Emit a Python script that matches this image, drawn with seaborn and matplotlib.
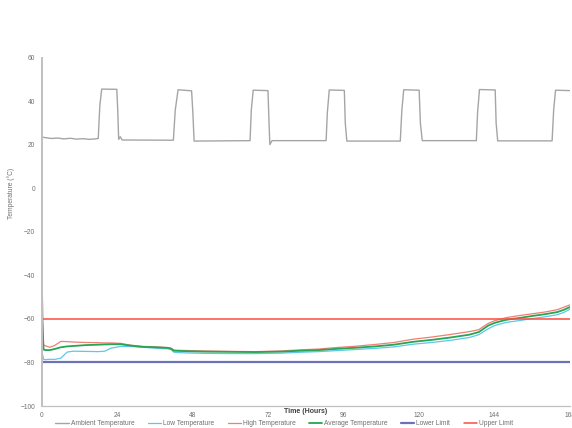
import matplotlib
matplotlib.use("Agg")
import matplotlib.pyplot as plt
import seaborn as sns
import numpy as np
import pandas as pd

# ambient temperature (hours, degC)
ambient_time = [0, 1, 3, 5, 7, 9, 11, 13, 15, 17, 17.9, 18.4, 19.0, 23.8, 24.1, 24.4, 24.9, 25.5,
                41.8, 42.4, 43.3, 47.6, 48.0, 48.4, 66.2, 66.6, 67.2, 71.9, 72.2, 72.5, 73.2,
                90.4, 90.8, 91.4, 96.2, 96.5, 97.0, 114.0, 114.5, 115.1, 120.0, 120.4, 121.0,
                138.2, 138.6, 139.2, 144.2, 144.5, 145.0, 162.3, 162.8, 163.4, 168]
ambient_temp = [23.6, 23.4, 23.0, 23.2, 22.8, 23.1, 22.7, 22.9, 22.6, 22.8, 23.0, 38.0, 45.7, 45.6, 36.0, 22.6, 23.8, 22.3,
                22.2, 36.0, 45.4, 44.9, 35.0, 21.8, 22.0, 36.0, 45.2, 45.0, 32.0, 20.2, 22.0,
                22.0, 35.0, 45.3, 45.1, 30.0, 21.8, 21.8, 36.0, 45.4, 45.2, 30.0, 22.0,
                22.0, 35.0, 45.5, 45.3, 30.0, 21.9, 21.9, 36.0, 45.2, 45.0]

# probe temperatures (hours, degC)
probe_time = [0, 0.5, 1, 2.5, 4, 6, 8, 10, 14, 18, 20, 22, 25, 28, 32, 36, 40, 41, 42, 46, 52,
              60, 68, 76, 82, 88, 94, 100, 106, 112, 118, 124, 130, 136, 139, 140, 142, 144,
              146, 148, 152, 156, 160, 164, 166, 168]
low_temp = [-75.0, -78.5, -78.7, -78.5, -78.6, -78.0, -75.2, -74.8, -74.9, -75.0, -74.8, -73.4,
            -72.6, -72.6, -73.0, -73.4, -73.7, -74.0, -75.3, -75.6, -75.8, -75.9, -75.9, -75.7,
            -75.3, -75.0, -74.5, -74.0, -73.5, -72.8, -71.6, -70.8, -69.8, -68.5, -67.2, -66.3,
            -64.5, -63.0, -62.2, -61.5, -60.7, -59.8, -59.0, -58.0, -57.0, -55.5]
high_temp = [-42.0, -72.0, -72.3, -73.0, -72.2, -70.3, -70.4, -70.6, -70.8, -70.9, -71.0, -71.0,
             -71.2, -72.0, -72.6, -72.8, -73.1, -73.4, -74.3, -74.5, -74.7, -74.9, -75.0, -74.7,
             -74.2, -73.8, -73.1, -72.5, -71.7, -70.8, -69.3, -68.3, -67.1, -65.8, -64.9, -63.9,
             -62.0, -60.8, -60.0, -59.3, -58.4, -57.6, -56.8, -55.7, -54.6, -53.5]
avg_temp = [-60.0, -74.0, -74.3, -74.3, -73.8, -73.0, -72.6, -72.4, -72.0, -71.8, -71.7, -71.6,
            -71.6, -72.2, -72.8, -73.0, -73.3, -73.6, -74.6, -74.8, -75.0, -75.1, -75.2, -75.0,
            -74.6, -74.3, -73.7, -73.2, -72.6, -71.8, -70.5, -69.6, -68.5, -67.2, -66.0, -65.0,
            -63.0, -61.8, -61.0, -60.3, -59.5, -58.6, -57.8, -56.8, -55.8, -54.5]

lower_limit = -80
upper_limit = -60

x_ticks = [0, 24, 48, 72, 96, 120, 144, 168]
y_ticks = [-100, -80, -60, -40, -20, 0, 20, 40, 60]

sns.set_theme(style="white")
plt.rcParams['font.family'] = ['Liberation Sans', 'DejaVu Sans']

fig = plt.figure(figsize=(5.72, 4.28), dpi=100)
ax = fig.add_axes([0.0734, 0.0514, 0.9231, 0.8131])

sns.lineplot(x=ambient_time, y=ambient_temp, ax=ax, color="#a5a5a5", linewidth=1.0,
             label="Ambient Temperature")
sns.lineplot(x=probe_time, y=low_temp, ax=ax, color="#5fc6ee", linewidth=0.9,
             label="Low Temperature")
sns.lineplot(x=probe_time, y=high_temp, ax=ax, color="#ee7f76", linewidth=0.9,
             label="High Temperature")
sns.lineplot(x=probe_time, y=avg_temp, ax=ax, color="#26a552", linewidth=1.3,
             label="Average Temperature")
ax.axhline(lower_limit, color="#6b72b8", linewidth=1.6, label="Lower Limit")
ax.axhline(upper_limit, color="#ff4a3d", linewidth=1.1, label="Upper Limit")

ax.set_xlim(0, 168)
ax.set_ylim(-100, 60)
ax.set_xticks(x_ticks)
ax.set_yticks(y_ticks)
ax.tick_params(axis='both', length=0, labelsize=4.8, labelcolor="#707070")
ax.tick_params(axis='x', pad=4)
ax.tick_params(axis='y', pad=5)

ax.set_xlabel("Time (Hours)", fontsize=5, fontweight='bold', color="#404040")
ax.xaxis.set_label_coords(0.5, -0.006)
ax.set_ylabel("Temperature (°C)", fontsize=4.8, color="#707070")
ax.yaxis.set_label_coords(-0.052, 0.61)

for s in ['top', 'right']:
    ax.spines[s].set_visible(False)
ax.spines['left'].set_color("#c0c0c0")
ax.spines['left'].set_linewidth(1.4)
ax.spines['bottom'].set_color("#c0c0c0")
ax.spines['bottom'].set_linewidth(0.9)

ax.get_legend().remove()
handles, labels = ax.get_legend_handles_labels()
leg = fig.legend(handles, labels, loc='center', bbox_to_anchor=(0.497, 0.01), ncol=6,
                 frameon=False, fontsize=4.8, handlelength=2.0, handletextpad=0.3,
                 columnspacing=2.0)
for t in leg.get_texts():
    t.set_color("#707070")

plt.savefig("out.png", dpi=100)
